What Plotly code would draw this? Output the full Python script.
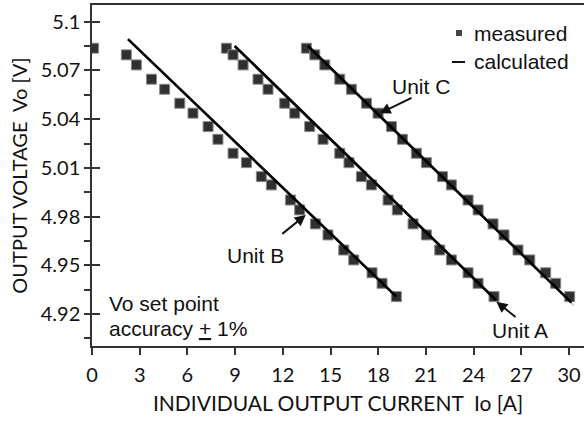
import plotly.graph_objects as go

# ---- data ----
vo_measured = [5.0837, 5.0796, 5.0734, 5.0646, 5.0584, 5.0498, 5.0437, 5.0354, 5.0276, 5.0190, 5.0132,
               5.0046, 4.9995, 4.9902, 4.9841, 4.9755, 4.9687, 4.9594, 4.9533, 4.9454, 4.9389, 4.9307]
io_unit_a = [8.45, 8.87, 9.50, 10.44, 11.07, 12.12, 12.75, 13.69, 14.53, 15.58, 16.16,
             16.94, 17.57, 18.62, 19.20, 20.19, 21.03, 21.87, 22.60, 23.65, 24.28, 25.28]
io_unit_b = [0.10, 2.16, 2.79, 3.74, 4.57, 5.52, 6.35, 7.30, 7.92, 8.87, 9.71,
             10.65, 11.28, 12.48, 13.06, 14.05, 14.84, 15.83, 16.46, 17.61, 18.24, 19.14]
io_unit_c = [13.48, 14.01, 14.64, 15.58, 16.31, 17.26, 17.99, 18.83, 19.52, 20.40, 21.03,
             22.04, 22.60, 23.65, 24.28, 25.22, 25.91, 26.79, 27.53, 28.53, 29.16, 30.04]

calc_a_x = [8.97, 25.40]
calc_a_y = [5.0851, 4.9286]
calc_b_x = [2.26, 19.14]
calc_b_y = [5.0893, 4.9307]
calc_c_x = [13.58, 30.15]
calc_c_y = [5.0851, 4.9270]
calc_c_shade_x = [13.70, 30.30]
calc_c_shade_y = [5.0838, 4.9252]

x_ticks = [0, 3, 6, 9, 12, 15, 18, 21, 24, 27, 30]
y_ticks = [4.92, 4.95, 4.98, 5.01, 5.04, 5.07, 5.10]
y_tick_text = ["4.92", "4.95", "4.98", "5.01", "5.04", "5.07", "5.1"]
y_minor_ticks = [4.905, 4.935, 4.965, 4.995, 5.025, 5.055, 5.085]

x_range = [0, 30.94]
y_range = [4.9003, 5.1103]

TICK_FONT = dict(family="Lato, 'Open Sans', sans-serif", size=20, color="#111")
XTITLE_FONT = dict(family="Lato, 'Open Sans', sans-serif", size=21, color="#111")
ANN_FONT = dict(family="'Liberation Sans', Arial, sans-serif", size=21, color="#111")
AX_COLOR = "#333"

fig = go.Figure()

marker = dict(symbol="square", size=10, color="#303030", line=dict(color="#8a8a8a", width=1))
for xs in (io_unit_b, io_unit_a, io_unit_c):
    fig.add_trace(go.Scatter(x=xs, y=vo_measured, mode="markers", marker=marker,
                             showlegend=False, hoverinfo="skip"))

fig.add_trace(go.Scatter(x=calc_c_shade_x, y=calc_c_shade_y, mode="lines",
                         line=dict(color="#c8c8c8", width=1.5), showlegend=False))
for lx, ly in ((calc_b_x, calc_b_y), (calc_a_x, calc_a_y), (calc_c_x, calc_c_y)):
    fig.add_trace(go.Scatter(x=lx, y=ly, mode="lines", line=dict(color="#000", width=2.7),
                             showlegend=False))

# dummy trace to keep the overlay axis alive (for inside half of crossing ticks)
fig.add_trace(go.Scatter(x=[None], y=[None], yaxis="y2", showlegend=False))

annotations = []
unit_labels = [("Unit C", 20.72, 5.0604), ("Unit B", 10.28, 4.9563), ("Unit A", 26.90, 4.9101)]
for t, x, y in unit_labels:
    annotations.append(dict(x=x, y=y, xref="x", yref="y", text=t, showarrow=False,
                            font=ANN_FONT, xanchor="center", yanchor="middle"))
arrows = [((18.09, 5.0436), (20.19, 5.0536)),
          ((13.44, 4.9810), (11.87, 4.9686)),
          ((25.43, 4.9276), (26.73, 4.9174))]
for (hx, hy), (tx, ty) in arrows:
    annotations.append(dict(x=hx, y=hy, ax=tx, ay=ty, xref="x", yref="y", axref="x", ayref="y",
                            text="", showarrow=True, arrowhead=2, arrowsize=1.1, arrowwidth=2,
                            arrowcolor="#111"))
annotations.append(dict(x=0.97, y=4.9266, xref="x", yref="y", text="Vo set point",
                        showarrow=False, font=ANN_FONT, xanchor="left", yanchor="middle"))
annotations.append(dict(x=0.97, y=4.9112, xref="x", yref="y", text="accuracy <u>+</u> 1%",
                        showarrow=False, font=ANN_FONT, xanchor="left", yanchor="middle"))

# legend (drawn manually)
L, T, W, H = 92, 5, 492, 341
def px(p):
    return (p - L) / W
def py(p):
    return (T + H - p) / H

annotations.append(dict(x=px(472), y=py(33), xref="paper", yref="paper", text="measured",
                        showarrow=False, font=ANN_FONT, xanchor="left", yanchor="middle"))
annotations.append(dict(x=px(472), y=py(62), xref="paper", yref="paper", text="calculated",
                        showarrow=False, font=ANN_FONT, xanchor="left", yanchor="middle"))
shapes = [
    dict(type="rect", xref="paper", yref="paper", x0=px(456), x1=px(462), y0=py(36), y1=py(30),
         fillcolor="#444", line=dict(width=0)),
    dict(type="line", xref="paper", yref="paper", x0=px(452), x1=px(465), y0=py(62), y1=py(62),
         line=dict(color="#111", width=2)),
]

fig.update_layout(
    width=584, height=422,
    margin=dict(l=L, r=0, t=T, b=422 - T - H, pad=0),
    paper_bgcolor="white", plot_bgcolor="white",
    showlegend=False,
    annotations=annotations,
    shapes=shapes,
    xaxis=dict(
        range=x_range, tickvals=x_ticks, ticktext=[str(v) for v in x_ticks],
        ticks="outside", ticklen=7, tickwidth=1.5, tickcolor=AX_COLOR,
        showline=True, linecolor=AX_COLOR, linewidth=1.5, mirror=True,
        showgrid=False, zeroline=False, tickfont=TICK_FONT, ticklabelstandoff=3,
        title=dict(text="INDIVIDUAL OUTPUT CURRENT  Io [A]", font=XTITLE_FONT, standoff=12),
    ),
    yaxis=dict(
        range=y_range, tickvals=y_ticks, ticktext=y_tick_text,
        ticks="outside", ticklen=6, tickwidth=1.5, tickcolor=AX_COLOR,
        minor=dict(tickvals=y_minor_ticks, ticks="outside", ticklen=6, tickwidth=1.5,
                   tickcolor=AX_COLOR, showgrid=False),
        showline=True, linecolor=AX_COLOR, linewidth=1.5,
        showgrid=False, zeroline=False, tickfont=TICK_FONT,
        title=dict(text="OUTPUT VOLTAGE  Vo [V]", font=TICK_FONT, standoff=8),
    ),
    yaxis2=dict(
        range=y_range, overlaying="y", side="left", anchor="x",
        tickvals=y_ticks, ticks="inside", ticklen=8, tickwidth=1.5, tickcolor=AX_COLOR,
        showticklabels=False, showline=False, showgrid=False, zeroline=False,
    ),
)

fig.write_html("out.html")
